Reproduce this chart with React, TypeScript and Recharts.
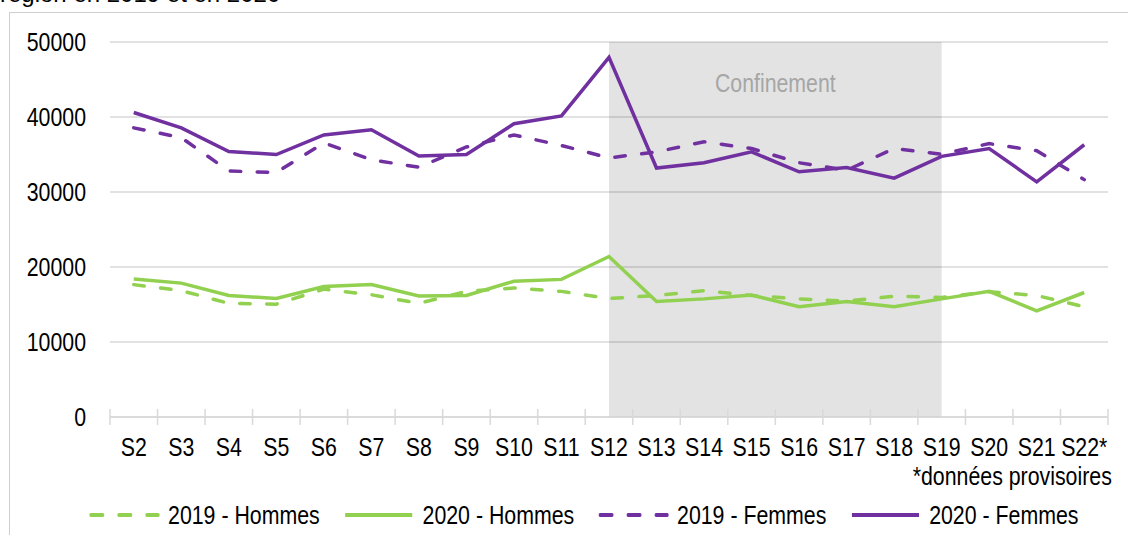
import React from 'react';
import { LineChart, Line, XAxis, YAxis, CartesianGrid, ReferenceArea, Legend } from 'recharts';

const weeks = ['S2', 'S3', 'S4', 'S5', 'S6', 'S7', 'S8', 'S9', 'S10', 'S11', 'S12', 'S13', 'S14', 'S15', 'S16', 'S17', 'S18', 'S19', 'S20', 'S21', 'S22*'];
const hommes2019 = [17650, 16850, 15150, 15050, 17050, 16300, 15150, 16750, 17200, 16750, 15800, 16200, 16850, 16200, 15750, 15450, 16100, 15950, 16700, 16200, 14700];
const hommes2020 = [18400, 17850, 16200, 15800, 17400, 17650, 16150, 16200, 18100, 18350, 21400, 15400, 15750, 16250, 14700, 15400, 14700, 15750, 16750, 14150, 16600];
const femmes2019 = [38550, 37250, 32800, 32600, 36550, 34300, 33300, 36000, 37600, 36200, 34550, 35350, 36700, 35800, 33900, 32900, 35800, 35050, 36450, 35500, 31650];
const femmes2020 = [40600, 38550, 35400, 35000, 37600, 38300, 34800, 35000, 39100, 40150, 47950, 33200, 33900, 35350, 32700, 33250, 31850, 34750, 35800, 31350, 36300];
const yTicks = [0, 10000, 20000, 30000, 40000, 50000];
const seriesNames = ['2019 - Hommes', '2020 - Hommes', '2019 - Femmes', '2020 - Femmes'];
const title = 'région en 2019 et en 2020';
const note = '*données provisoires';
const shadeLabel = 'Confinement';
const shadeStart = 'S12';
const shadeEnd = 'S19';

const GREEN = '#92D050';
const PURPLE = '#7030A0';
const GRID = '#D9D9D9';
const FONT = "'Liberation Sans', Arial, sans-serif";
const SQ = 0.82; // horizontal condensing (Arial Narrow look)

const data = weeks.map((w, i) => ({
  week: w,
  pos: i + 0.5,
  h2019: hommes2019[i],
  h2020: hommes2020[i],
  f2019: femmes2019[i],
  f2020: femmes2020[i],
}));

const boundaryTicks = weeks.map((_, i) => i).concat([weeks.length]);

const legendItems = [
  { name: seriesNames[0], color: GREEN, dashed: true },
  { name: seriesNames[1], color: GREEN, dashed: false },
  { name: seriesNames[2], color: PURPLE, dashed: true },
  { name: seriesNames[3], color: PURPLE, dashed: false },
];

const EmptyTick = () => <g />;

const XTick = (props: any) => {
  const { x, y, payload } = props;
  return (
    <g transform={`translate(${x},${y})`}>
      <text x={0} y={0} dy="0.71em" textAnchor="middle" transform={`scale(${SQ},1)`} fontSize={26} fontFamily={FONT} fill="#000">{payload.value}</text>
    </g>
  );
};

const YTick = (props: any) => {
  const { x, y, payload } = props;
  return (
    <g transform={`translate(${x},${y})`}>
      <text x={0} y={0} dy="0.355em" textAnchor="end" transform={`scale(${SQ},1)`} fontSize={26} fontFamily={FONT} fill="#000">{payload.value}</text>
    </g>
  );
};

const ShadeLabel = (props: any) => {
  const vb = props.viewBox || {};
  const cx = vb.x + vb.width / 2;
  const ty = vb.y + 32;
  return (
    <g transform={`translate(${cx},${ty})`}>
      <text x={0} y={0} dy="0.71em" textAnchor="middle" transform={`scale(${SQ},1)`} fontSize={26} fontFamily={FONT} fill="#A6A6A6">{shadeLabel}</text>
    </g>
  );
};

const LegendBox = () => (
  <div style={{ position: 'relative', height: 70, width: 1108, fontFamily: FONT, fontSize: 26, color: '#000' }}>
    <div style={{ position: 'absolute', right: -4, top: -2, lineHeight: '26px', whiteSpace: 'nowrap', transform: `scaleX(${SQ})`, transformOrigin: 'right center' }}>{note}</div>
    <div style={{ position: 'absolute', left: 89, top: 35, display: 'flex', alignItems: 'center', lineHeight: '30px', whiteSpace: 'nowrap', transform: `scaleX(${SQ})`, transformOrigin: 'left center' }}>
      {legendItems.map((it, i) => (
        <div key={i} style={{ display: 'flex', alignItems: 'center', marginRight: 29 }}>
          <svg width={86.6} height={30} style={{ display: 'block' }}>
            <line x1={2.4} y1={15} x2={84.2} y2={15} stroke={it.color} strokeWidth={4}
              strokeLinecap={it.dashed ? 'round' : 'butt'}
              strokeDasharray={it.dashed ? '14.3 19.85' : undefined} />
          </svg>
          <span style={{ marginLeft: 9.8 }}>{it.name}</span>
        </div>
      ))}
    </div>
  </div>
);

export default function App() {
  const x1 = weeks.indexOf(shadeStart) + 0.5;
  const x2 = weeks.indexOf(shadeEnd) + 0.5;
  return (
    <div style={{ position: 'absolute', left: 0, top: 0, width: 1128, height: 535, overflow: 'hidden', background: '#fff' }}>
      <div style={{ position: 'absolute', left: 0, top: -18, fontFamily: FONT, fontSize: 24, lineHeight: '24px', whiteSpace: 'nowrap', color: '#000' }}>{title}</div>
      <div style={{ position: 'absolute', left: 9, top: 12, width: 1130, height: 540, borderTop: '1px solid #CFCFCF', borderLeft: '1px solid #CFCFCF' }} />
      <div style={{ position: 'absolute', left: 0, top: 0 }}>
        <LineChart width={1128} height={535} data={data} margin={{ top: 42, right: 20, left: 0, bottom: 0 }}>
          <CartesianGrid xAxisId="a" vertical={false} stroke={GRID} strokeWidth={1.3} />
          <YAxis domain={[0, 50000]} ticks={yTicks} width={110} axisLine={false} tickLine={false} tickSize={0} tickMargin={24}
            tick={<YTick />} interval={0} />
          <XAxis xAxisId="a" dataKey="pos" type="number" domain={[0, weeks.length]} ticks={boundaryTicks} height={1} tickSize={8}
            tick={<EmptyTick />} axisLine={{ stroke: GRID, strokeWidth: 1.5 }} tickLine={{ stroke: GRID, strokeWidth: 1.5 }} allowDataOverflow interval={0} />
          <XAxis xAxisId="b" dataKey="pos" type="number" domain={[0, weeks.length]} ticks={boundaryTicks} height={1} tickSize={8} mirror
            tick={<EmptyTick />} axisLine={false} tickLine={{ stroke: GRID, strokeWidth: 1.5 }} allowDataOverflow interval={0} />
          <XAxis xAxisId="c" dataKey="week" scale="band" interval={0} axisLine={false} tickLine={false} tickSize={0} tickMargin={20} height={47}
            tick={<XTick />} />
          <ReferenceArea xAxisId="a" x1={x1} x2={x2} y1={0} y2={50000} fill="#000" fillOpacity={0.11} stroke="none"
            label={<ShadeLabel />} />
          <Line xAxisId="c" dataKey="h2019" name={seriesNames[0]} stroke={GREEN} strokeWidth={3.5} strokeDasharray="10.5 16.5" strokeLinecap="round" dot={false} isAnimationActive={false} />
          <Line xAxisId="c" dataKey="h2020" name={seriesNames[1]} stroke={GREEN} strokeWidth={3.5} dot={false} isAnimationActive={false} />
          <Line xAxisId="c" dataKey="f2019" name={seriesNames[2]} stroke={PURPLE} strokeWidth={3.5} strokeDasharray="10.5 16.5" strokeLinecap="round" dot={false} isAnimationActive={false} />
          <Line xAxisId="c" dataKey="f2020" name={seriesNames[3]} stroke={PURPLE} strokeWidth={3.5} dot={false} isAnimationActive={false} />
          <Legend verticalAlign="bottom" content={() => <LegendBox />} />
        </LineChart>
      </div>
    </div>
  );
}
